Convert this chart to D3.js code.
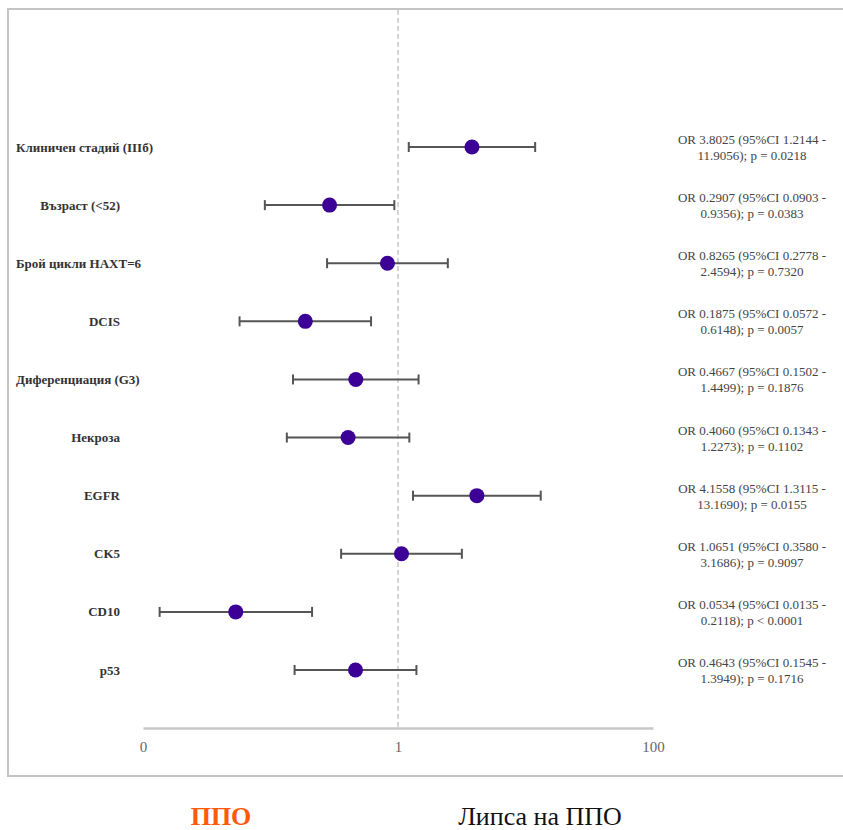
<!DOCTYPE html>
<html><head><meta charset="utf-8">
<script src="https://cdn.jsdelivr.net/npm/d3@7"></script>
<style>body{margin:0;background:#fff}svg{display:block}</style>
</head><body>
<svg id="c" width="843" height="830"></svg>
<script>
const categories = ["Клиничен стадий (IIIб)","Възраст (<52)","Брой цикли НАХТ=6","DCIS","Диференциация (G3)","Некроза","EGFR","CK5","CD10","p53"];
const orValues = [3.8025,0.2907,0.8265,0.1875,0.4667,0.4060,4.1558,1.0651,0.0534,0.4643];
const ciLow = [1.2144,0.0903,0.2778,0.0572,0.1502,0.1343,1.3115,0.3580,0.0135,0.1545];
const ciHigh = [11.9056,0.9356,2.4594,0.6148,1.4499,1.2273,13.1690,3.1686,0.2118,1.3949];
const pLabels = ["p = 0.0218","p = 0.0383","p = 0.7320","p = 0.0057","p = 0.1876","p = 0.1102","p = 0.0155","p = 0.9097","p < 0.0001","p = 0.1716"];
const ciHighText = ["11.9056","0.9356","2.4594","0.6148","1.4499","1.2273","13.1690","3.1686","0.2118","1.3949"];
const ciLowText = ["1.2144","0.0903","0.2778","0.0572","0.1502","0.1343","1.3115","0.3580","0.0135","0.1545"];
const orText = ["3.8025","0.2907","0.8265","0.1875","0.4667","0.4060","4.1558","1.0651","0.0534","0.4643"];
const tickValues = [0.01,1,100];
const tickLabels = ["0","1","100"];
const groupLabels = ["ППО","Липса на ППО"];

const svg = d3.select("#c");
const serif = "'Liberation Serif','Times New Roman',serif";

// frame
svg.append("rect").attr("x",8).attr("y",9).attr("width",845).attr("height",767)
  .attr("fill","none").attr("stroke","#c4c4c4").attr("stroke-width",2);

const x = d3.scaleLog().domain([0.01,100]).range([143,653]);
const y = d3.scalePoint().domain(categories).range([147,670]);

// reference line
svg.append("line").attr("x1",x(1)).attr("x2",x(1)).attr("y1",10).attr("y2",728)
  .attr("stroke","#c8c8c8").attr("stroke-width",1.5).attr("stroke-dasharray","5,3");

// axis
const axis = d3.axisBottom(x).tickValues(tickValues).tickFormat((d,i)=>tickLabels[i]).tickSize(0).tickPadding(13);
const ag = svg.append("g").attr("transform","translate(0,728)").call(axis);
ag.select(".domain").attr("stroke","#c8c8c8").attr("stroke-width",2.5);
ag.selectAll("text").attr("font-family",serif).attr("font-size",15).attr("fill","#666");

// rows
const rows = svg.append("g").selectAll("g").data(categories).join("g")
  .attr("transform",d=>`translate(0,${y(d)})`);

rows.append("line").attr("x1",(d,i)=>x(ciLow[i])).attr("x2",(d,i)=>x(ciHigh[i]))
  .attr("stroke","#555").attr("stroke-width",2);
rows.append("line").attr("x1",(d,i)=>x(ciLow[i])).attr("x2",(d,i)=>x(ciLow[i])).attr("y1",-5).attr("y2",5)
  .attr("stroke","#555").attr("stroke-width",2);
rows.append("line").attr("x1",(d,i)=>x(ciHigh[i])).attr("x2",(d,i)=>x(ciHigh[i])).attr("y1",-5).attr("y2",5)
  .attr("stroke","#555").attr("stroke-width",2);
rows.append("circle").attr("cx",(d,i)=>x(orValues[i])).attr("r",7.5).attr("fill","#3c0096");

// left labels
rows.append("text").text(d=>d).attr("font-family",serif).attr("font-weight","bold")
  .attr("font-size",13).attr("fill","#333").attr("dy","0.35em")
  .each(function(){
    const w = this.getComputedTextLength();
    this.setAttribute("x", Math.max(16, 120 - w));
  });

// right stats
const st = rows.append("text").attr("font-family",serif).attr("font-size",13).attr("fill","#444")
  .attr("text-anchor","middle");
st.append("tspan").attr("x",752).attr("y",-3).text((d,i)=>`OR ${orText[i]} (95%CI ${ciLowText[i]} -`);
st.append("tspan").attr("x",752).attr("y",13).text((d,i)=>`${ciHighText[i]}); ${pLabels[i]}`);

// group labels
svg.append("text").attr("x",221).attr("y",825).attr("text-anchor","middle")
  .attr("font-family",serif).attr("font-weight","bold").attr("font-size",26).attr("fill","#ff5a0a").text(groupLabels[0]);
svg.append("text").attr("x",540).attr("y",825).attr("text-anchor","middle")
  .attr("font-family",serif).attr("font-size",26).attr("fill","#111").text(groupLabels[1]);
</script>
</body></html>
